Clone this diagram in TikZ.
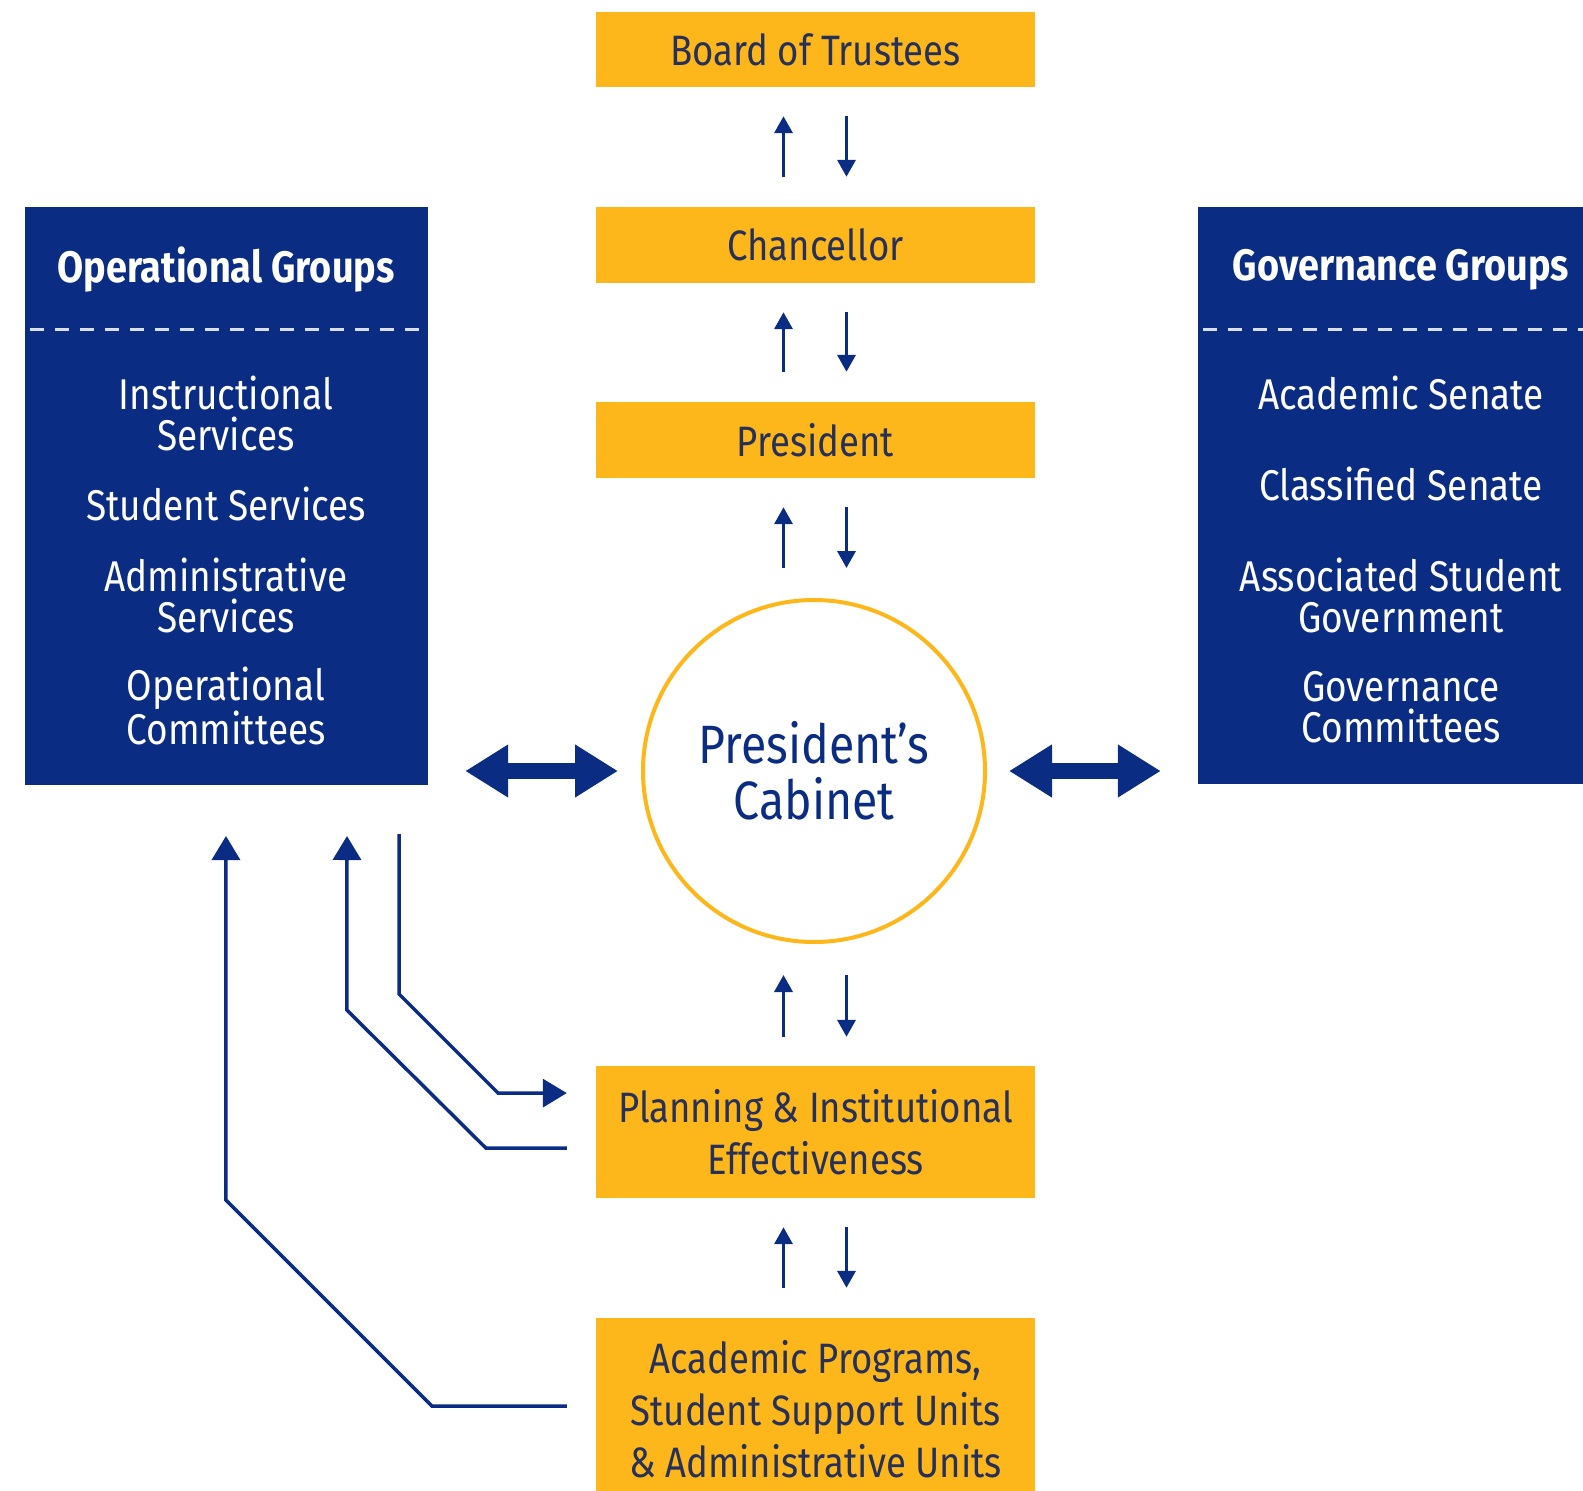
\documentclass[tikz,border=0pt]{standalone}
\usepackage{fontspec}
\setmainfont{Fira Sans}[FakeStretch=0.86]
\usetikzlibrary{arrows.meta,calc}
\definecolor{navy}{RGB}{10,44,130}
\definecolor{gold}{RGB}{253,183,26}
\definecolor{ink}{RGB}{38,48,88}
\begin{document}
\begin{tikzpicture}[x=1pt,y=-1pt,
  goldbox/.style={fill=gold, minimum width=439pt, inner sep=0pt, text=ink, align=center,
    font=\fontsize{42.5}{52}\selectfont},
  bluebox/.style={fill=navy, inner sep=0pt},
  bluetitle/.style={text=white, align=center, font=\fontsize{44}{44}\selectfont\bfseries},
  blueitem/.style={text=white, align=center, font=\fontsize{43}{41}\selectfont},
  smallarrow/.style={navy, line width=3.5pt, -{Triangle[width=18pt,length=17pt]}},
  linkarrow/.style={navy, line width=3.5pt, -{Triangle[width=28pt,length=24pt]}},
  dblarrow/.style={navy, line width=16pt, {Triangle[width=50pt,length=43pt]}-{Triangle[width=50pt,length=43pt]}},
  sep/.style={white!85!navy, line width=3pt, dash pattern=on 14pt off 11pt}]
\useasboundingbox (0,0) rectangle (1583,1491);
% central column
\node[goldbox, minimum height=75pt] (board) at (815.5,49.5) {Board of Trustees};
\node[goldbox, minimum height=76pt] (chan) at (815.5,245) {Chancellor};
\node[goldbox, minimum height=76pt] (pres) at (815.5,440) {President};
\node[circle, draw=gold, line width=4pt, minimum size=342pt, inner sep=0pt, text=navy, align=center,
  font=\fontsize{54}{56}\selectfont] (cab) at (814,771) {President’s\\Cabinet};
\node[goldbox, minimum height=132pt] (plan) at (815.5,1132) {Planning \& Institutional\\Effectiveness};
\node[goldbox, minimum height=182pt] (acad) at (815.5,1409) {Academic Programs,\\Student Support Units\\\& Administrative Units};
% blue boxes
\node[bluebox, minimum width=403pt, minimum height=578pt] (opbox) at (226.5,496) {};
\node[bluebox, minimum width=402pt, minimum height=577pt] (gvbox) at (1399,495.5) {};
\draw[sep] (30,329) -- (opbox.east |- 0,329);
\draw[sep] ([xshift=5pt]gvbox.west |- 0,329) -- (1583,329);
\node[bluetitle] (optitle) at (226,270) {Operational Groups};
\node[blueitem] (op1) at (226,413) {Instructional\\Services};
\node[blueitem] (op2) at (226,504) {Student Services};
\node[blueitem] (op3) at (226,595) {Administrative\\Services};
\node[blueitem] (op4) at (226,706) {Operational\\Committees};
\node[bluetitle] (gvtitle) at (1401,270) {Governance Groups};
\node[blueitem] (gv1) at (1401,393) {Academic Senate};
\node[blueitem] (gv2) at (1401,484) {Classified Senate};
\node[blueitem] (gv3) at (1401,595) {Associated Student\\Government};
\node[blueitem] (gv4) at (1401,707) {Governance\\Committees};
% small arrow pairs
\foreach \lo/\hi in {chan/board, pres/chan}{
  \draw[smallarrow, shorten <=30pt, shorten >=29pt] ([xshift=-32pt]\lo.north) -- ([xshift=-32pt]\hi.south);
  \draw[smallarrow, shorten <=29pt, shorten >=30pt] ([xshift=31pt]\hi.south) -- ([xshift=31pt]\lo.north);
}
\draw[smallarrow, shorten <=30pt, shorten >=29pt] ([xshift=-32pt]pres.south |- cab.north) -- ([xshift=-32pt]pres.south);
\draw[smallarrow, shorten <=29pt, shorten >=30pt] ([xshift=31pt]pres.south) -- ([xshift=31pt]pres.south |- cab.north);
\draw[smallarrow, shorten <=29pt, shorten >=31pt] ([xshift=-32pt]plan.north) -- ([xshift=-32pt]plan.north |- cab.south);
\draw[smallarrow, shorten <=31pt, shorten >=29pt] ([xshift=31pt]plan.north |- cab.south) -- ([xshift=31pt]plan.north);
\draw[smallarrow, shorten <=30pt, shorten >=29pt] ([xshift=-32pt]acad.north) -- ([xshift=-32pt]plan.south);
\draw[smallarrow, shorten <=29pt, shorten >=30pt] ([xshift=31pt]plan.south) -- ([xshift=31pt]acad.north);
% double arrows
\draw[dblarrow, shorten <=37pt, shorten >=23pt] (opbox.east |- cab.center) -- (cab.west);
\draw[dblarrow, shorten <=22pt, shorten >=37pt] (cab.east) -- (gvbox.west |- cab.center);
% left connectors
\coordinate (o3) at ([xshift=-29pt,yshift=-49pt]opbox.south east);
\draw[linkarrow, shorten >=29pt] (o3) -- ++(0,160) -- ++(99,99) -- (plan.west |- 0,1093);
\coordinate (p2) at ([xshift=-29pt,yshift=-16pt]plan.west);
\draw[linkarrow] (p2) -- ++(-81,0) -- ++(-139,-138) -- (347,836);
\coordinate (a1) at ([xshift=-29pt]acad.west |- 0,1406);
\draw[linkarrow] (a1) -- ++(-135,0) -- ++(-206,-206) -- (226,836);
\end{tikzpicture}
\end{document}
